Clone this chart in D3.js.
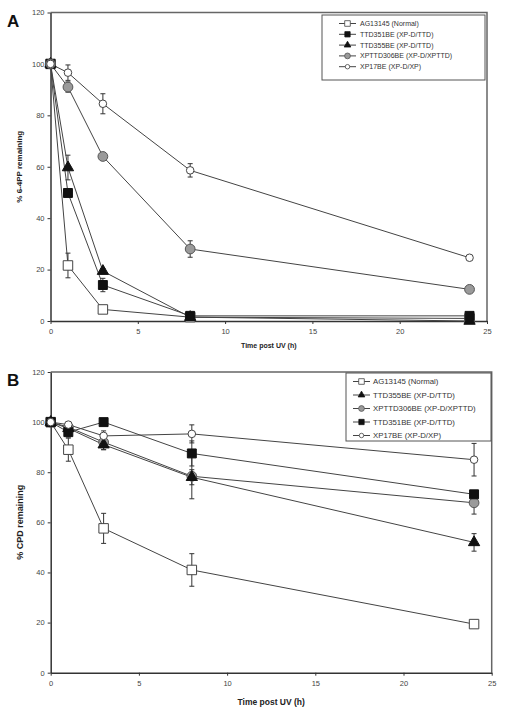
<!DOCTYPE html>
<html><head><meta charset="utf-8">
<script src="https://cdn.jsdelivr.net/npm/d3@7"></script>
<style>body{margin:0;background:#fff}svg{display:block}text{font-family:"Liberation Sans",Arial,sans-serif}</style>
</head><body>
<svg id="c" width="505" height="715"></svg>
<script>
// ---------- data ----------
const timePoints = [0, 1, 3, 8, 24];
const xTicks = [0, 5, 10, 15, 20, 25];
const yTicks = [0, 20, 40, 60, 80, 100, 120];

// Panel A: % 6-4PP remaining
const aNames = ["AG13145 (Normal)", "TTD351BE (XP-D/TTD)", "TTD355BE (XP-D/TTD)", "XPTTD306BE (XP-D/XPTTD)", "XP17BE (XP-D/XP)"];
const aKeys = ["AG13145", "TTD351BE", "TTD355BE", "XPTTD306BE", "XP17BE"];
const aAG13145 = [100, 21.6, 4.5, 1.5, 1];
const aTTD351BE = [100, 49.8, 14, 2, 2];
const aTTD355BE = [100, 59.7, 19.4, 1.5, 0];
const aXPTTD306BE = [100, 91, 64, 28, 12.3];
const aXP17BE = [100, 96.6, 84.5, 58.6, 24.6];
const aErrAG13145 = [0, 4.8, 1, 0.5, 0];
const aErrTTD351BE = [0, 1, 2.6, 0.5, 0];
const aErrTTD355BE = [0, 4.8, 1, 0.5, 0];
const aErrXPTTD306BE = [0, 2, 1, 3.2, 0.5];
const aErrXP17BE = [0, 3, 3.9, 2.6, 0.5];

// Panel B: % CPD remaining
const bNames = ["AG13145 (Normal)", "TTD355BE (XP-D/TTD)", "XPTTD306BE (XP-D/XPTTD)", "TTD351BE (XP-D/TTD)", "XP17BE (XP-D/XP)"];
const bKeys = ["AG13145", "TTD355BE", "XPTTD306BE", "TTD351BE", "XP17BE"];
const bAG13145 = [100, 89, 57.6, 41, 19.4];
const bTTD351BE = [100, 96, 100, 87.5, 71.2];
const bTTD355BE = [100, 97.5, 91, 78, 52];
const bXPTTD306BE = [100, 98, 92, 78.4, 67.8];
const bXP17BE = [100, 99, 94.5, 95.3, 85];
const bErrAG13145 = [0, 4.6, 6, 6.5, 0.5];
const bErrTTD351BE = [0, 2, 1, 5, 1];
const bErrTTD355BE = [0, 1, 2, 3, 3.5];
const bErrXPTTD306BE = [0, 1, 3, 9, 4.5];
const bErrXP17BE = [0, 1, 2, 3.6, 6.5];

// ---------- styles ----------
const style = {
  AG13145:    {shape: d3.symbolSquare,   size: 90, fill: "#fff",   stroke: "#444"},
  TTD351BE:   {shape: d3.symbolSquare,   size: 80, fill: "#111",   stroke: "#111"},
  TTD355BE:   {shape: d3.symbolTriangle, size: 55, fill: "#111",   stroke: "#111"},
  XPTTD306BE: {shape: d3.symbolCircle,   size: 75, fill: "#9a9a9a", stroke: "#555"},
  XP17BE:     {shape: d3.symbolCircle,   size: 45, fill: "#fff",   stroke: "#444"}
};

const svg = d3.select("#c");
const font = '"Liberation Sans",Arial,sans-serif';

function panel(cfg) {
  const x = d3.scaleLinear().domain([0, 25]).range([cfg.left, cfg.right]);
  const y = d3.scaleLinear().domain([0, 120]).range([cfg.bottom, cfg.top]);
  const g = svg.append("g");

  // frame (top & right)
  g.append("path")
    .attr("d", `M${cfg.left},${cfg.top}H${cfg.right}V${cfg.bottom}`)
    .attr("fill", "none").attr("stroke", "#666").attr("stroke-width", 1.5);

  // axes
  const xa = g.append("g").attr("transform", `translate(0,${cfg.bottom})`)
    .call(d3.axisBottom(x).tickValues(xTicks).tickSize(3).tickSizeOuter(0));
  const ya = g.append("g").attr("transform", `translate(${cfg.left},0)`)
    .call(d3.axisLeft(y).tickValues(yTicks).tickSize(3).tickSizeOuter(0));
  [xa, ya].forEach(a => {
    a.select(".domain").attr("stroke", "#333").attr("stroke-width", 1.5);
    a.selectAll(".tick line").attr("stroke", "#333");
    a.selectAll(".tick text").attr("font-family", font).attr("font-size", 7.5).attr("fill", "#444");
  });
  xa.selectAll(".tick text").attr("dy", "0.71em").attr("y", 8);
  ya.selectAll(".tick text").attr("x", -6);

  // titles
  g.append("text").attr("x", (cfg.left + cfg.right) / 2).attr("y", cfg.xTitleY)
    .attr("text-anchor", "middle").attr("font-size", cfg.xTitleSize).attr("font-weight", "bold")
    .attr("fill", "#222").text("Time post UV (h)");
  g.append("text").attr("transform", `translate(${cfg.yTitleX},${(cfg.top + cfg.bottom) / 2}) rotate(-90)`)
    .attr("text-anchor", "middle").attr("font-size", cfg.yTitleSize).attr("font-weight", "bold")
    .attr("fill", "#222").text(cfg.yTitle);
  g.append("text").attr("x", 7).attr("y", cfg.letterY).attr("font-size", 17).attr("font-weight", "bold")
    .attr("fill", "#111").text(cfg.letter);

  // lines
  const line = d3.line().x((d, i) => x(timePoints[i])).y(d => y(d));
  cfg.series.forEach(s => {
    g.append("path").datum(s.values).attr("d", line)
      .attr("fill", "none").attr("stroke", "#444").attr("stroke-width", 1);
  });
  // error bars
  cfg.series.forEach(s => {
    s.values.forEach((v, i) => {
      const e = s.err[i];
      if (!e) return;
      const cx = x(timePoints[i]);
      const y1 = y(v + e), y2 = y(v - e);
      g.append("path")
        .attr("d", `M${cx},${y1}V${y2}M${cx - 2.5},${y1}H${cx + 2.5}M${cx - 2.5},${y2}H${cx + 2.5}`)
        .attr("stroke", "#333").attr("stroke-width", 1).attr("fill", "none");
    });
  });
  // markers
  cfg.series.forEach(s => {
    const st = style[s.key];
    g.selectAll(null).data(s.values).enter().append("path")
      .attr("transform", (d, i) => `translate(${x(timePoints[i])},${y(d)})`)
      .attr("d", d3.symbol().type(st.shape).size(st.size))
      .attr("fill", st.fill).attr("stroke", st.stroke).attr("stroke-width", 1);
  });

  // legend
  const L = cfg.legend;
  g.append("rect").attr("x", L.x).attr("y", L.y).attr("width", L.w).attr("height", L.h)
    .attr("fill", "#fff").attr("stroke", "#555").attr("stroke-width", 1);
  cfg.names.forEach((n, i) => {
    const key = cfg.keys[i];
    const st = style[key];
    const yy = L.y + L.first + i * L.step;
    g.append("line").attr("x1", L.sx).attr("x2", L.sx + 17).attr("y1", yy).attr("y2", yy)
      .attr("stroke", "#444").attr("stroke-width", 1);
    g.append("path").attr("transform", `translate(${L.sx + 8.5},${yy})`)
      .attr("d", d3.symbol().type(st.shape).size(st.size * 0.35))
      .attr("fill", st.fill).attr("stroke", st.stroke).attr("stroke-width", 0.8);
    g.append("text").attr("x", L.tx).attr("y", yy).attr("dy", "0.35em")
      .attr("font-size", L.fs).attr("fill", "#333").text(n);
  });
}

const seriesA = [
  {key: "AG13145", values: aAG13145, err: aErrAG13145},
  {key: "TTD351BE", values: aTTD351BE, err: aErrTTD351BE},
  {key: "TTD355BE", values: aTTD355BE, err: aErrTTD355BE},
  {key: "XPTTD306BE", values: aXPTTD306BE, err: aErrXPTTD306BE},
  {key: "XP17BE", values: aXP17BE, err: aErrXP17BE}
];
const seriesB = [
  {key: "AG13145", values: bAG13145, err: bErrAG13145},
  {key: "XPTTD306BE", values: bXPTTD306BE, err: bErrXPTTD306BE},
  {key: "TTD355BE", values: bTTD355BE, err: bErrTTD355BE},
  {key: "TTD351BE", values: bTTD351BE, err: bErrTTD351BE},
  {key: "XP17BE", values: bXP17BE, err: bErrXP17BE}
];

panel({
  left: 50.5, right: 487, top: 12.5, bottom: 321,
  xTitleY: 348, xTitleSize: 7, yTitleX: 22, yTitleSize: 8, yTitle: "% 6-4PP remaining",
  letter: "A", letterY: 27, series: seriesA, names: aNames, keys: aKeys,
  legend: {x: 322, y: 15, w: 163, h: 65, first: 8.5, step: 10.8, sx: 339, tx: 360, fs: 7}
});
panel({
  left: 50.7, right: 491.7, top: 372, bottom: 672.7,
  xTitleY: 705, xTitleSize: 8.5, yTitleX: 23, yTitleSize: 9, yTitle: "% CPD remaining",
  letter: "B", letterY: 386, series: seriesB, names: bNames, keys: bKeys,
  legend: {x: 346, y: 373, w: 145, h: 68, first: 8.5, step: 13.5, sx: 353, tx: 373, fs: 7.8}
});
</script>
</body></html>
